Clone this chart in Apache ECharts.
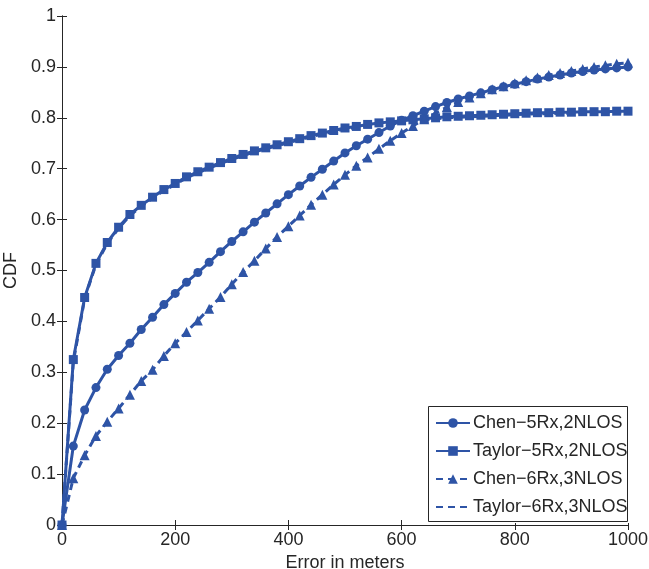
<!DOCTYPE html>
<html><head><meta charset="utf-8">
<script src="https://cdn.jsdelivr.net/npm/echarts@6/dist/echarts.min.js"></script>
<style>html,body{margin:0;padding:0;background:#fff}#c{width:649px;height:569px}</style>
</head><body><div id="c"></div>
<script>
const errorMeters = [0,20,40,60,80,100,120,140,160,180,200,220,240,260,280,300,320,340,360,380,400,420,440,460,480,500,520,540,560,580,600,620,640,660,680,700,720,740,760,780,800,820,840,860,880,900,920,940,960,980,1000];
const chen5Rx2NLOS = [0,0.155,0.226,0.270,0.306,0.333,0.357,0.384,0.408,0.433,0.455,0.477,0.496,0.516,0.537,0.557,0.576,0.595,0.613,0.631,0.649,0.666,0.683,0.699,0.715,0.731,0.745,0.758,0.771,0.784,0.795,0.804,0.813,0.822,0.830,0.837,0.843,0.849,0.855,0.861,0.866,0.871,0.876,0.880,0.884,0.888,0.891,0.894,0.896,0.898,0.900];
const taylor5Rx2NLOS = [0,0.325,0.447,0.514,0.555,0.585,0.610,0.628,0.644,0.659,0.671,0.684,0.694,0.703,0.712,0.720,0.728,0.735,0.741,0.747,0.753,0.759,0.765,0.770,0.775,0.780,0.783,0.787,0.790,0.792,0.794,0.796,0.798,0.800,0.802,0.803,0.804,0.805,0.806,0.807,0.808,0.809,0.810,0.810,0.811,0.811,0.812,0.812,0.812,0.813,0.813];
const chen6Rx3NLOS = [0,0.092,0.137,0.175,0.203,0.229,0.256,0.283,0.305,0.332,0.357,0.379,0.402,0.425,0.448,0.473,0.497,0.519,0.543,0.566,0.587,0.608,0.629,0.649,0.669,0.688,0.706,0.722,0.739,0.755,0.770,0.784,0.797,0.809,0.821,0.831,0.840,0.848,0.856,0.862,0.868,0.874,0.879,0.884,0.888,0.892,0.896,0.900,0.903,0.906,0.908];
const taylor6Rx3NLOS = [0,0.320,0.445,0.512,0.553,0.583,0.608,0.626,0.642,0.657,0.669,0.682,0.692,0.701,0.710,0.718,0.726,0.733,0.739,0.745,0.751,0.757,0.763,0.768,0.773,0.778,0.781,0.785,0.788,0.790,0.792,0.794,0.796,0.798,0.800,0.801,0.802,0.803,0.804,0.805,0.806,0.807,0.808,0.808,0.809,0.809,0.810,0.810,0.810,0.811,0.811];
const seriesNames = ['Chen\u22125Rx,2NLOS','Taylor\u22125Rx,2NLOS','Chen\u22126Rx,3NLOS','Taylor\u22126Rx,3NLOS'];

const BLUE = '#2E54A6';
const INK = '#262626';
const FONT = 'Liberation Sans, Arial, Helvetica, sans-serif';
const pairs = arr => errorMeters.map((x, i) => [x, arr[i]]);

const axisCommon = {
  axisLine: {show: true, lineStyle: {color: INK, width: 1}},
  axisTick: {show: true, inside: true, length: 5, lineStyle: {color: INK}},
  splitLine: {show: false}
};

const chart = echarts.init(document.getElementById('c'), null, {renderer: 'canvas'});
chart.setOption({
  animation: false,
  backgroundColor: '#fff',
  grid: {left: 62, right: 21, top: 16, bottom: 44, containLabel: false, outerBoundsMode: 'none'},
  xAxis: [
    Object.assign({type: 'value', min: 0, max: 1000, interval: 200, position: 'bottom',
      axisLabel: {color: INK, fontSize: 18, fontFamily: FONT, margin: 6, formatter: v => String(v)},
      name: 'Error in meters', nameLocation: 'middle', nameGap: 27,
      nameTextStyle: {color: INK, fontSize: 18, fontFamily: FONT}}, axisCommon),
    Object.assign({type: 'value', min: 0, max: 1000, interval: 200, position: 'top',
      axisLabel: {show: false}}, axisCommon)
  ],
  yAxis: [
    Object.assign({type: 'value', min: 0, max: 1, interval: 0.1, position: 'left',
      axisLabel: {color: INK, fontSize: 18, fontFamily: FONT, margin: 6},
      name: 'CDF', nameLocation: 'middle', nameGap: 36, nameRotate: 90,
      nameTextStyle: {color: INK, fontSize: 18, fontFamily: FONT}}, axisCommon),
    Object.assign({type: 'value', min: 0, max: 1, interval: 0.1, position: 'right',
      axisLabel: {show: false}}, axisCommon)
  ],
  legend: {
    left: 428, top: 407, orient: 'vertical',
    padding: [7, 4, 7, 7], itemGap: 10, itemWidth: 34, itemHeight: 12,
    backgroundColor: '#fff', borderWidth: 0,
    textStyle: {color: INK, fontSize: 18, fontFamily: FONT, padding: [0, 0, 0, -2]},
    data: [
      {name: seriesNames[0]},
      {name: seriesNames[1]},
      {name: seriesNames[2]},
      {name: seriesNames[3], itemStyle: {opacity: 0}}
    ]
  },
  graphic: [{
    type: 'rect', z: 100, silent: true,
    shape: {x: 428.5, y: 406.5, width: 199, height: 115},
    style: {fill: 'none', stroke: INK, lineWidth: 1}
  }],
  series: [
    {name: seriesNames[0], type: 'line', data: pairs(chen5Rx2NLOS), symbol: 'circle', symbolSize: 9,
      lineStyle: {color: BLUE, width: 3}, itemStyle: {color: BLUE}, z: 2},
    {name: seriesNames[1], type: 'line', data: pairs(taylor5Rx2NLOS), symbol: 'rect', symbolSize: 9,
      lineStyle: {color: BLUE, width: 3}, itemStyle: {color: BLUE}, z: 3},
    {name: seriesNames[2], type: 'line', data: pairs(chen6Rx3NLOS), symbol: 'triangle', symbolSize: 10,
      lineStyle: {color: BLUE, width: 3, type: [7, 5]}, itemStyle: {color: BLUE}, z: 4},
    {name: seriesNames[3], type: 'line', data: pairs(taylor6Rx3NLOS), symbol: 'none',
      lineStyle: {color: BLUE, width: 3, type: [7, 5]}, itemStyle: {color: BLUE}, z: 1}
  ]
});
</script>
</body></html>
